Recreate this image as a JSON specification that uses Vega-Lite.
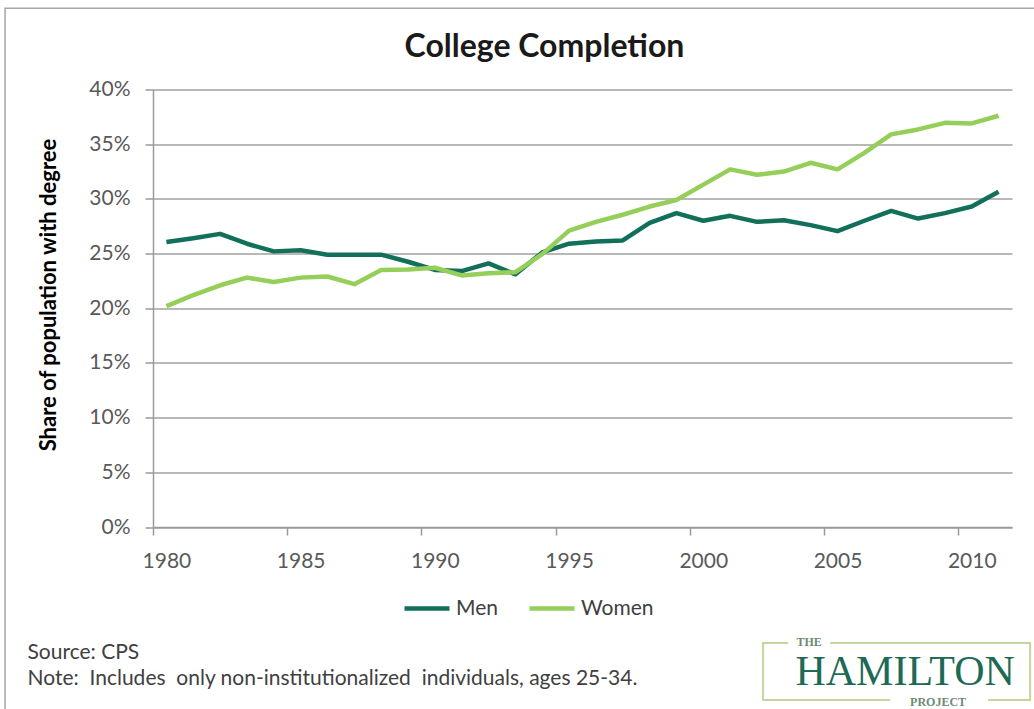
{
  "$schema": "https://vega.github.io/schema/vega-lite/v6.json",
  "autosize": {"type": "none"},
  "width": 859,
  "height": 437.5,
  "padding": {"left": 153, "top": 89.5, "right": 22, "bottom": 182},
  "background": "white",
  "config": {"view": {"stroke": null}, "font": "Lato"},
  "title": {"text": "College Completion", "font": "Lato", "fontSize": 32, "fontWeight": "bold", "color": "#1a1a1a", "anchor": "middle", "dx": -38, "offset": -57},
  "data": {"values": [{}]},
  "layer": [
    {
      "data": {"values": [
        {"year": 1980, "series": "Men", "share": 0.2605},
        {"year": 1981, "series": "Men", "share": 0.264},
        {"year": 1982, "series": "Men", "share": 0.268},
        {"year": 1983, "series": "Men", "share": 0.259},
        {"year": 1984, "series": "Men", "share": 0.252},
        {"year": 1985, "series": "Men", "share": 0.253},
        {"year": 1986, "series": "Men", "share": 0.249},
        {"year": 1987, "series": "Men", "share": 0.249},
        {"year": 1988, "series": "Men", "share": 0.249},
        {"year": 1989, "series": "Men", "share": 0.2425},
        {"year": 1990, "series": "Men", "share": 0.235},
        {"year": 1991, "series": "Men", "share": 0.234},
        {"year": 1992, "series": "Men", "share": 0.241},
        {"year": 1993, "series": "Men", "share": 0.231},
        {"year": 1994, "series": "Men", "share": 0.251},
        {"year": 1995, "series": "Men", "share": 0.259},
        {"year": 1996, "series": "Men", "share": 0.261},
        {"year": 1997, "series": "Men", "share": 0.262},
        {"year": 1998, "series": "Men", "share": 0.278},
        {"year": 1999, "series": "Men", "share": 0.287},
        {"year": 2000, "series": "Men", "share": 0.280},
        {"year": 2001, "series": "Men", "share": 0.2845},
        {"year": 2002, "series": "Men", "share": 0.279},
        {"year": 2003, "series": "Men", "share": 0.2805},
        {"year": 2004, "series": "Men", "share": 0.276},
        {"year": 2005, "series": "Men", "share": 0.2705},
        {"year": 2006, "series": "Men", "share": 0.280},
        {"year": 2007, "series": "Men", "share": 0.289},
        {"year": 2008, "series": "Men", "share": 0.282},
        {"year": 2009, "series": "Men", "share": 0.287},
        {"year": 2010, "series": "Men", "share": 0.293},
        {"year": 2011, "series": "Men", "share": 0.3065},
        {"year": 1980, "series": "Women", "share": 0.202},
        {"year": 1981, "series": "Women", "share": 0.212},
        {"year": 1982, "series": "Women", "share": 0.221},
        {"year": 1983, "series": "Women", "share": 0.228},
        {"year": 1984, "series": "Women", "share": 0.224},
        {"year": 1985, "series": "Women", "share": 0.228},
        {"year": 1986, "series": "Women", "share": 0.229},
        {"year": 1987, "series": "Women", "share": 0.222},
        {"year": 1988, "series": "Women", "share": 0.235},
        {"year": 1989, "series": "Women", "share": 0.2355},
        {"year": 1990, "series": "Women", "share": 0.237},
        {"year": 1991, "series": "Women", "share": 0.230},
        {"year": 1992, "series": "Women", "share": 0.232},
        {"year": 1993, "series": "Women", "share": 0.233},
        {"year": 1994, "series": "Women", "share": 0.2495},
        {"year": 1995, "series": "Women", "share": 0.271},
        {"year": 1996, "series": "Women", "share": 0.279},
        {"year": 1997, "series": "Women", "share": 0.2855},
        {"year": 1998, "series": "Women", "share": 0.293},
        {"year": 1999, "series": "Women", "share": 0.299},
        {"year": 2000, "series": "Women", "share": 0.313},
        {"year": 2001, "series": "Women", "share": 0.327},
        {"year": 2002, "series": "Women", "share": 0.322},
        {"year": 2003, "series": "Women", "share": 0.325},
        {"year": 2004, "series": "Women", "share": 0.333},
        {"year": 2005, "series": "Women", "share": 0.327},
        {"year": 2006, "series": "Women", "share": 0.342},
        {"year": 2007, "series": "Women", "share": 0.359},
        {"year": 2008, "series": "Women", "share": 0.3635},
        {"year": 2009, "series": "Women", "share": 0.3695},
        {"year": 2010, "series": "Women", "share": 0.369},
        {"year": 2011, "series": "Women", "share": 0.376}
      ]},
      "mark": {"type": "line", "strokeWidth": 4.5, "strokeJoin": "round"},
      "encoding": {
        "x": {
          "field": "year", "type": "quantitative",
          "scale": {"domain": [1979.5, 2011.5], "nice": false, "zero": false},
          "axis": {
            "values": [1980, 1985, 1990, 1995, 2000, 2005, 2010],
            "format": "d", "grid": false, "labelFlush": false, "labelOverlap": false,
            "tickOffset": -13.42, "labelOffset": 13.42,
            "domainColor": "#9a9a9a", "domainWidth": 1.5,
            "tickColor": "#9a9a9a", "tickWidth": 1.5, "tickSize": 8,
            "labelFont": "Lato", "labelFontSize": 21, "labelColor": "#595959", "labelPadding": 15,
            "title": ["Source: CPS", "Note:\u00a0 Includes\u00a0 only non-institutionalized\u00a0 individuals, ages 25-34."],
            "titleX": -126, "titleY": 114, "titleAlign": "left", "titleAnchor": "start", "titleBaseline": "top",
            "titleFont": "Lato", "titleFontSize": 21, "titleFontWeight": "normal", "titleColor": "#404040", "titleLineHeight": 26
          }
        },
        "y": {
          "field": "share", "type": "quantitative",
          "scale": {"domain": [0, 0.4], "nice": false},
          "axis": {
            "values": [0, 0.05, 0.1, 0.15, 0.2, 0.25, 0.3, 0.35, 0.4],
            "format": ".0%", "grid": true, "gridColor": "#a0a0a0", "gridWidth": 1.5,
            "domainColor": "#9a9a9a", "domainWidth": 1.5,
            "tickColor": "#9a9a9a", "tickWidth": 1.5, "tickSize": 8,
            "labelFont": "Lato", "labelFontSize": 21, "labelColor": "#595959", "labelPadding": 15,
            "title": "Share of population with degree",
            "titleFont": "Lato", "titleFontSize": 22, "titleFontWeight": "bold", "titleColor": "#000000",
            "titleX": -105, "titleY": 205, "titleAngle": -90, "titleAlign": "center", "titleBaseline": "middle"
          }
        },
        "color": {
          "field": "series", "type": "nominal",
          "scale": {"domain": ["Men", "Women"], "range": ["#12705a", "#95cf5a"]},
          "legend": {
            "orient": "none", "legendX": 249, "legendY": 494, "direction": "horizontal", "title": null,
            "symbolType": "stroke", "symbolSize": 2025, "symbolStrokeWidth": 4.5,
            "labelFont": "Lato", "labelFontSize": 21, "labelColor": "#404040", "labelOffset": 4,
            "columnPadding": 22, "padding": 0
          }
        }
      }
    },
    {
      "mark": {"type": "rect", "fill": "transparent", "stroke": "#a6a6a6", "strokeWidth": 1.5},
      "encoding": {"x": {"datum": 1973.99}, "x2": {"datum": 2013.5}, "y": {"datum": 0.4744}, "y2": {"datum": -0.17}}
    },
    {
      "mark": {"type": "rect", "fill": "transparent", "stroke": "#c3d69b", "strokeWidth": 2},
      "encoding": {"x": {"datum": 2002.227}, "x2": {"datum": 2012.175}, "y": {"datum": -0.10603}, "y2": {"datum": -0.15814}}
    },
    {
      "mark": {"type": "rect", "fill": "white", "stroke": null},
      "encoding": {"x": {"datum": 2003.159}, "x2": {"datum": 2004.724}, "y": {"datum": -0.1015}, "y2": {"datum": -0.1106}}
    },
    {
      "mark": {"type": "rect", "fill": "white", "stroke": null},
      "encoding": {"x": {"datum": 2006.959}, "x2": {"datum": 2010.611}, "y": {"datum": -0.15356}, "y2": {"datum": -0.16271}}
    },
    {
      "mark": {"type": "text", "font": "Liberation Serif", "fontSize": 12, "fontWeight": "bold", "color": "#6f8a72", "align": "center", "baseline": "middle"},
      "encoding": {"x": {"datum": 2003.941}, "y": {"datum": -0.1051}, "text": {"value": "THE"}}
    },
    {
      "mark": {"type": "text", "font": "Liberation Serif", "fontSize": 42, "color": "#1d6a57", "align": "center", "baseline": "alphabetic"},
      "encoding": {"x": {"datum": 2007.518}, "y": {"datum": -0.1444}, "text": {"value": "HAMILTON"}}
    },
    {
      "mark": {"type": "text", "font": "Liberation Serif", "fontSize": 12, "fontWeight": "bold", "color": "#6f8a72", "align": "center", "baseline": "middle"},
      "encoding": {"x": {"datum": 2008.747}, "y": {"datum": -0.1600}, "text": {"value": "PROJECT"}}
    }
  ]
}
